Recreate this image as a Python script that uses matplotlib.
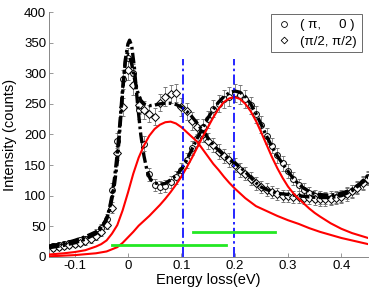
import matplotlib
matplotlib.use("Agg")
import matplotlib.pyplot as plt
from matplotlib.lines import Line2D
import numpy as np

plt.rcParams["font.family"] = ["Liberation Sans", "DejaVu Sans"]
plt.rcParams["axes.unicode_minus"] = False

# measured points, both momenta on the same energy grid
energy = np.round(np.arange(-0.14, 0.4501, 0.01), 3)

counts_pi0 = [18, 19, 21, 22, 24, 27, 29, 33, 38, 47,
              62, 110, 190, 290, 325, 300, 240, 185, 135, 118,
              114, 116, 122, 130, 142, 158, 178, 195, 212, 225,
              242, 250, 258, 262, 268, 265, 258, 248, 233, 216,
              198, 182, 166, 153, 140, 128, 118, 110, 104, 100,
              97, 96, 97, 98, 100, 104, 108, 114, 122, 130]
err_pi0 = [5, 5, 5, 5, 5, 6, 6, 6, 7, 7,
           8, 10, 12, 15, 16, 15, 14, 12, 11, 10,
           10, 10, 10, 11, 11, 12, 12, 13, 13, 14,
           14, 14, 15, 15, 15, 15, 15, 14, 14, 14,
           13, 13, 12, 12, 11, 11, 10, 10, 10, 10,
           10, 10, 10, 10, 10, 10, 10, 10, 11, 11]

counts_pi2 = [15, 16, 18, 19, 21, 23, 26, 29, 34, 41,
              52, 80, 170, 245, 305, 280, 248, 240, 234, 229,
              252, 262, 266, 268, 245, 238, 222, 213, 200, 190,
              183, 172, 165, 158, 150, 142, 136, 128, 120, 114,
              110, 106, 103, 100, 99, 98, 98, 97, 96, 95,
              94, 94, 95, 96, 98, 102, 107, 113, 120, 128]
err_pi2 = [5, 5, 5, 5, 5, 5, 6, 6, 6, 7,
           7, 9, 12, 14, 16, 15, 14, 14, 14, 14,
           14, 15, 15, 15, 14, 14, 14, 13, 13, 13,
           12, 12, 12, 11, 11, 11, 11, 10, 10, 10,
           10, 10, 10, 10, 10, 10, 10, 10, 10, 10,
           10, 10, 10, 10, 10, 10, 10, 10, 11, 11]

# fitted spectra
fit_x_pi0 = [-0.148, -0.12, -0.10, -0.08, -0.06, -0.05, -0.04, -0.035, -0.03,
             -0.025, -0.02, -0.015, -0.01, -0.005, 0.0, 0.003, 0.007, 0.012,
             0.018, 0.024, 0.03, 0.036, 0.042, 0.05, 0.06, 0.07, 0.08, 0.09,
             0.10, 0.11, 0.12, 0.13, 0.14, 0.15, 0.16, 0.17, 0.18, 0.19, 0.20,
             0.21, 0.22, 0.23, 0.24, 0.25, 0.26, 0.27, 0.28, 0.29, 0.30, 0.31,
             0.32, 0.33, 0.34, 0.35, 0.36, 0.37, 0.38, 0.39, 0.40, 0.41, 0.42,
             0.43, 0.44, 0.45]
fit_y_pi0 = [18, 22, 27, 33, 41, 49, 62, 76, 95,
             120, 155, 210, 268, 322, 348, 354, 345, 310,
             250, 200, 165, 140, 127, 121, 119, 120, 126, 133,
             143, 158, 176, 194, 211, 227, 241, 253, 262, 268, 271,
             269, 262, 250, 234, 216, 197, 180, 165, 152, 140, 128,
             119, 112, 107, 104, 102, 101, 101, 102, 104, 107, 110,
             116, 124, 133]

fit_x_pi2 = [-0.148, -0.12, -0.10, -0.08, -0.06, -0.05, -0.04, -0.035, -0.03,
             -0.025, -0.02, -0.015, -0.01, -0.005, -0.002, 0.002, 0.007, 0.012,
             0.018, 0.024, 0.03, 0.04, 0.05, 0.06, 0.07, 0.08, 0.09, 0.10,
             0.11, 0.12, 0.13, 0.14, 0.15, 0.16, 0.17, 0.18, 0.19, 0.20, 0.21,
             0.22, 0.23, 0.24, 0.25, 0.26, 0.27, 0.28, 0.29, 0.30, 0.32, 0.34,
             0.36, 0.38, 0.40, 0.42, 0.43, 0.44, 0.45]
fit_y_pi2 = [15, 19, 23, 29, 38, 47, 62, 78, 100,
             130, 170, 220, 275, 318, 332, 330, 315, 292,
             270, 256, 250, 247, 248, 250, 251, 251, 249, 245,
             238, 229, 218, 206, 194, 183, 174, 166, 159, 153, 147,
             139, 130, 121, 114, 110, 107, 104, 103, 102, 100, 98,
             97, 97, 100, 108, 115, 122, 129]

# two red components
comp_x_low = [-0.148, -0.12, -0.10, -0.08, -0.06, -0.05, -0.04, -0.03, -0.02,
              -0.01, 0.0, 0.01, 0.02, 0.03, 0.04, 0.05, 0.06, 0.07, 0.08,
              0.09, 0.10, 0.11, 0.12, 0.13, 0.14, 0.15, 0.16, 0.17, 0.18,
              0.19, 0.20, 0.22, 0.24, 0.26, 0.28, 0.30, 0.32, 0.34, 0.36,
              0.38, 0.40, 0.42, 0.45]
comp_y_low = [4, 6, 8, 11, 17, 21, 27, 38, 52,
              76, 105, 136, 162, 182, 198, 209, 216, 220, 221,
              218, 212, 204, 196, 188, 176, 164, 152, 142, 131,
              121, 112, 96, 83, 75, 67, 60, 54, 47, 41,
              36, 31, 27, 21]

comp_x_high = [-0.148, -0.10, -0.06, -0.04, -0.02, -0.01, 0.0, 0.01, 0.02,
               0.03, 0.04, 0.05, 0.06, 0.07, 0.08, 0.09, 0.10, 0.11, 0.12,
               0.13, 0.14, 0.15, 0.16, 0.17, 0.18, 0.19, 0.20, 0.21, 0.22,
               0.23, 0.24, 0.25, 0.26, 0.27, 0.28, 0.29, 0.30, 0.31, 0.32,
               0.33, 0.34, 0.35, 0.36, 0.38, 0.40, 0.42, 0.45]
comp_y_high = [1, 3, 6, 9, 16, 23, 32, 41, 51,
               59, 67, 76, 85, 95, 106, 118, 131, 146, 162,
               179, 196, 212, 228, 242, 253, 259, 261, 258, 250,
               238, 222, 203, 183, 163, 145, 129, 115, 104, 95,
               87, 79, 72, 66, 55, 46, 39, 31]

# peak positions and widths
peak_lines = [0.103, 0.198]
peak_top = 323
width_bars = [(-0.030, 0.184, 20), (0.121, 0.275, 41)]

legend_labels = ["( \u03c0,     0 )", "(\u03c0/2, \u03c0/2)"]

fig = plt.figure(figsize=(3.74, 2.93), dpi=100)
ax = fig.add_axes([0.131, 0.123, 0.853, 0.836])

eb_style = dict(ls="none", ecolor="#777777", elinewidth=0.6, capsize=1.6,
                capthick=0.6, mfc="white", mec="black", mew=0.7, ms=4.2)
ax.errorbar(energy, counts_pi0, yerr=err_pi0, fmt="o", zorder=2, **eb_style)
ax.errorbar(energy, counts_pi2, yerr=err_pi2, fmt="D", zorder=2,
            **dict(eb_style, ms=3.6))

dashdot = (0, (3.2, 1.0, 0.8, 1.0))
ax.plot(fit_x_pi0, fit_y_pi0, color="black", lw=2.4, ls=dashdot, zorder=3)
ax.plot(fit_x_pi2, fit_y_pi2, color="black", lw=2.4, ls=dashdot, zorder=3)

ax.plot(comp_x_low, comp_y_low, color="red", lw=1.5, zorder=4)
ax.plot(comp_x_high, comp_y_high, color="red", lw=1.5, zorder=4)

for xp in peak_lines:
    ax.plot([xp, xp], [0, peak_top], color="blue", lw=1.2,
            ls=(0, (6, 2, 1.5, 2)), zorder=5)

for x0, x1, yb in width_bars:
    ax.plot([x0, x1], [yb, yb], color="#22e822", lw=2.0, zorder=5)

ax.set_xlim(-0.148, 0.45)
ax.set_ylim(0, 400)
ax.set_xticks([-0.1, 0, 0.1, 0.2, 0.3, 0.4])
ax.set_xticklabels(["-0.1", "0", "0.1", "0.2", "0.3", "0.4"])
ax.set_yticks(np.arange(0, 401, 50))
ax.tick_params(direction="in", length=3, width=0.6, colors="#888888",
               labelcolor="black", labelsize=9.5, pad=2)
for side in ["top", "right"]:
    ax.spines[side].set_visible(False)
for side in ["left", "bottom"]:
    ax.spines[side].set_color("#888888")
    ax.spines[side].set_linewidth(0.7)

ax.set_xlabel("Energy loss(eV)", fontsize=10.5, labelpad=1)
ax.set_ylabel("Intensity (counts)", fontsize=10.5, labelpad=5)

handles = [Line2D([], [], ls="none", marker="o", ms=4.2, mfc="white",
                  mec="black", mew=0.6),
           Line2D([], [], ls="none", marker="D", ms=3.4, mfc="white",
                  mec="black", mew=0.6)]
leg = ax.legend(handles, legend_labels, loc="upper right",
                bbox_to_anchor=(0.98, 0.99), fontsize=9.5,
                frameon=True, fancybox=False, borderpad=0.35, handlelength=1.3,
                handletextpad=0.6, labelspacing=0.3, borderaxespad=0.0)
leg.get_frame().set_edgecolor("#444444")
leg.get_frame().set_linewidth(0.7)

fig.savefig("out.png", dpi=100)
